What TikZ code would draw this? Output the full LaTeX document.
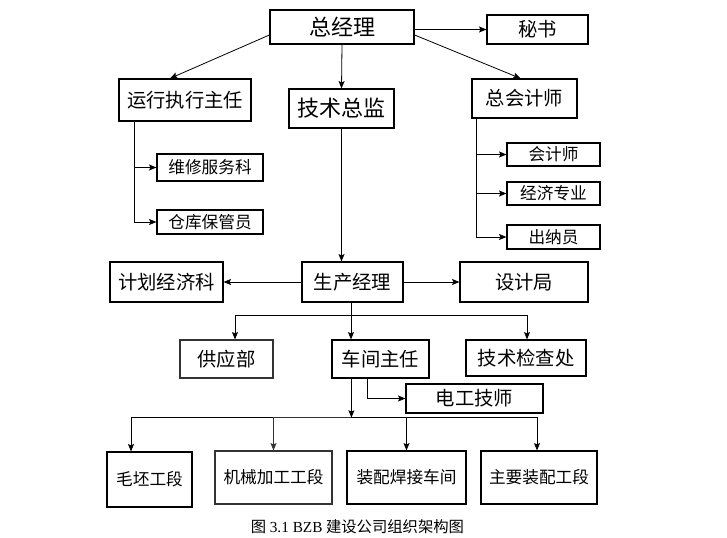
\documentclass[tikz,border=0pt]{standalone}
\usepackage{fontspec}
\setmainfont{Noto Sans CJK SC}
\newfontfamily\capserif{Liberation Serif}
\usetikzlibrary{arrows.meta, calc, positioning}

\begin{document}
\begin{tikzpicture}[x=0.75pt, y=-0.75pt, >={Stealth[length=5.5pt, width=4.5pt, inset=1pt]}, line width=0.6pt,
        post/.style 2 args={draw, line width=0.9pt, inner sep=0pt, minimum width=#1*0.75pt, minimum height=#2*0.75pt},
        big/.style={font=\fontsize{16.5}{18}\selectfont},
        mid/.style={font=\fontsize{14.5}{16}\selectfont},
        small/.style={font=\fontsize{12.5}{14}\selectfont}]
        \useasboundingbox (0,0) rectangle (727,538);
        % top levels
        \node[post={144}{34}, big] (zjl) at (342,27) {总经理};
        \node[post={101}{29}, mid] (ms) at (537.5,29.5) {秘书};
        \node[post={132}{42}, mid] (yxzr) at (185,100) {运行执行主任};
        \node[post={105}{39}, big] (jszj) at (341.5,108.5) {技术总监};
        \node[post={105}{39}, mid] (zkjs) at (524.5,98.5) {总会计师};
        \node[post={93}{23}, small] (kjs) at (553.5,154.5) {会计师};
        \node[post={93}{23}, small] (jjzy) at (553.5,193.5) {经济专业};
        \node[post={93}{24}, small] (cny) at (553.5,237) {出纳员};
        \node[post={106}{27}, small] (wxfw) at (210,167.5) {维修服务科};
        \node[post={106}{24}, small] (ckbg) at (210,222) {仓库保管员};
        % production
        \node[post={113}{40}, mid] (jhjj) at (166.5,282) {计划经济科};
        \node[post={101}{40}, mid] (scjl) at (352.5,282) {生产经理};
        \node[post={128}{40}, mid] (sjj) at (524,282) {设计局};
        \node[post={93}{38}, mid, draw=black!80] (gyb) at (226.5,359) {供应部};
        \node[post={97}{38}, mid] (cjzr) at (380.5,359) {车间主任};
        \node[post={120}{36}, mid] (jsjc) at (526,358) {技术检查处};
        \node[post={137}{29}, mid] (dgjs) at (474.5,398.5) {电工技师};
        \node[post={85}{55}, small] (mpgd) at (149.5,479.5) {毛坯工段};
        \node[post={117}{53}, small, draw=black!80] (jxjg) at (273.5,477.5) {机械加工工段};
        \node[post={119}{53}, small] (zphj) at (406.5,477.5) {装配焊接车间};
        \node[post={116}{53}, small] (zyzp) at (539,477.5) {主要装配工段};
        \node (cap) at (357.5,527) {\fontsize{11.5}{12}\selectfont 图 {\capserif 3.1 BZB} 建设公司组织架构图};

        \draw[->] ($(zjl.west)+(0,8)$) -- ($(yxzr.north)+(-15,0)$);
        \draw[->] (zjl.south) -- (jszj.north);
        \draw[->] (zjl.east |- ms.west) -- (ms.west);
        \draw[->] ($(zjl.east)+(0,8)$) -- ($(zkjs.north)+(-4,0)$);
        \coordinate (yx) at ($(yxzr.south west)+(16,0)$);
        \draw[->] (yx) |- (wxfw.west);
        \draw[->] (yx) |- (ckbg.west);
        \coordinate (zk) at ($(zkjs.south west)+(5,0)$);
        \draw[->] (zk) |- (kjs.west);
        \draw[->] (zk) |- (jjzy.west);
        \draw[->] (zk) |- (cny.west);
        \draw[->] (jszj.south) -- (jszj.south |- scjl.north);
        \draw[->] (scjl.west) -- (jhjj.east);
        \draw[->] (scjl.east) -- (sjj.west);
        \coordinate (sc) at ($(scjl.south)+(-1.5,13)$);
        \draw (scjl.south -| sc) -- (sc);
        \draw[->] (sc) -| ($(gyb.north)+(8.5,0)$);
        \draw[->] (sc) -- (sc |- cjzr.north);
        \draw[->] (sc) -| ($(jsjc.north)+(1,0)$);
        \draw[->] ($(cjzr.south west)+(36,0)$) |- (dgjs.west);
        \coordinate (cj) at ($(cjzr.south west)+(20,39)$);
        \draw[->] (cjzr.south west -| cj) -- (cj);
        \draw[->] (cj) -| ($(mpgd.north)+(-18.5,0)$);
        \draw[->, black!80] (cj) -| (jxjg.north);
        \draw[->] (cj) -| (zphj.north);
        \draw[->] (cj) -| ($(zyzp.north)+(-2,0)$);
    \end{tikzpicture}
\end{document}
